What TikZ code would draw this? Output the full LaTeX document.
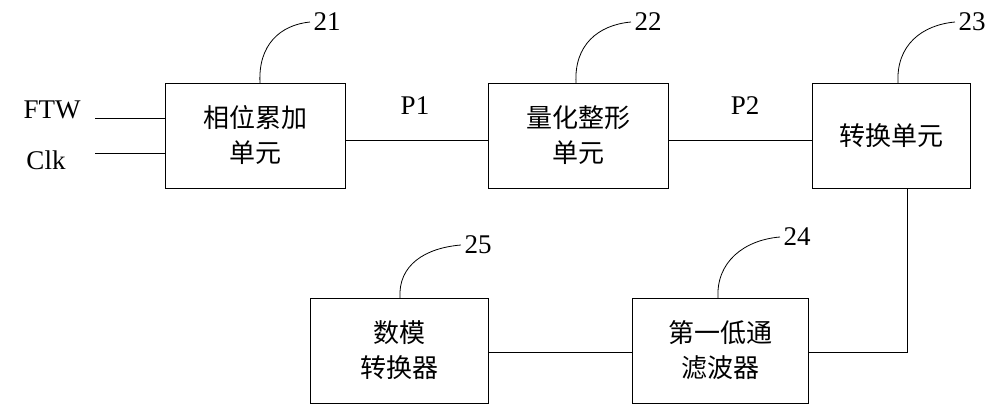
\documentclass[tikz,border=0pt]{standalone}
\usepackage{fontspec}
\setmainfont{Liberation Serif}
\newfontfamily\cjk{Noto Sans CJK SC}
\begin{document}
\begin{tikzpicture}[x=1pt,y=-1pt,
  box/.style={draw,line width=0.8pt,minimum width=#1,minimum height=105pt,align=center,font=\cjk\fontsize{26}{35}\selectfont,inner sep=0},
  lab/.style={font=\fontsize{27}{28}\selectfont},
  ln/.style={line width=0.8pt}]
\useasboundingbox (0,0) rectangle (1000,414);
\node[box=180pt] (b21) at (255,135.5) {相位累加\\单元};
\node[box=180pt] (b22) at (578,135.5) {量化整形\\单元};
\node[box=158pt] (b23) at (891,135.5) {转换单元};
\node[box=176pt] (b24) at (720,350.5) {第一低通\\滤波器};
\node[box=178pt] (b25) at (399,350.5) {数模\\转换器};
\node[lab] (ftw) at (52,110) {FTW};
\node[lab] (clk) at (46,160) {Clk};
\coordinate (f0) at (95,118); \coordinate (c0) at (95,153);
\draw[ln] (f0) -- (f0 -| b21.west);
\draw[ln] (c0) -- (c0 -| b21.west);
\draw[ln] (b21.east |- 0,140) -- (b22.west |- 0,140);
\draw[ln] (b22.east |- 0,140) -- (b23.west |- 0,140);
\node[lab] (p1) at (415,106) {P1};
\node[lab] (p2) at (745,106) {P2};
\coordinate (t) at (907,352);
\draw[ln] (b23.south -| t) -- (t) -- (t -| b24.east);
\draw[ln] (t -| b24.west) -- (t -| b25.east);
\node[lab] (n21) at (327,22) {21};
\node[lab] (n22) at (648,22) {22};
\node[lab] (n23) at (972,22) {23};
\node[lab] (n24) at (797,237) {24};
\node[lab] (n25) at (478,245) {25};
\draw[ln] (260,83) .. controls (258,45) and (280,25) .. (n21.west);
\draw[ln] (576,83) .. controls (574,45) and (598,25) .. (n22.west);
\draw[ln] (898,83) .. controls (896,45) and (922,25) .. (n23.west);
\draw[ln] (718,298) .. controls (716,262) and (744,240) .. (n24.west);
\draw[ln] (400,298) .. controls (398,265) and (425,248) .. (n25.west);
\end{tikzpicture}
\end{document}
